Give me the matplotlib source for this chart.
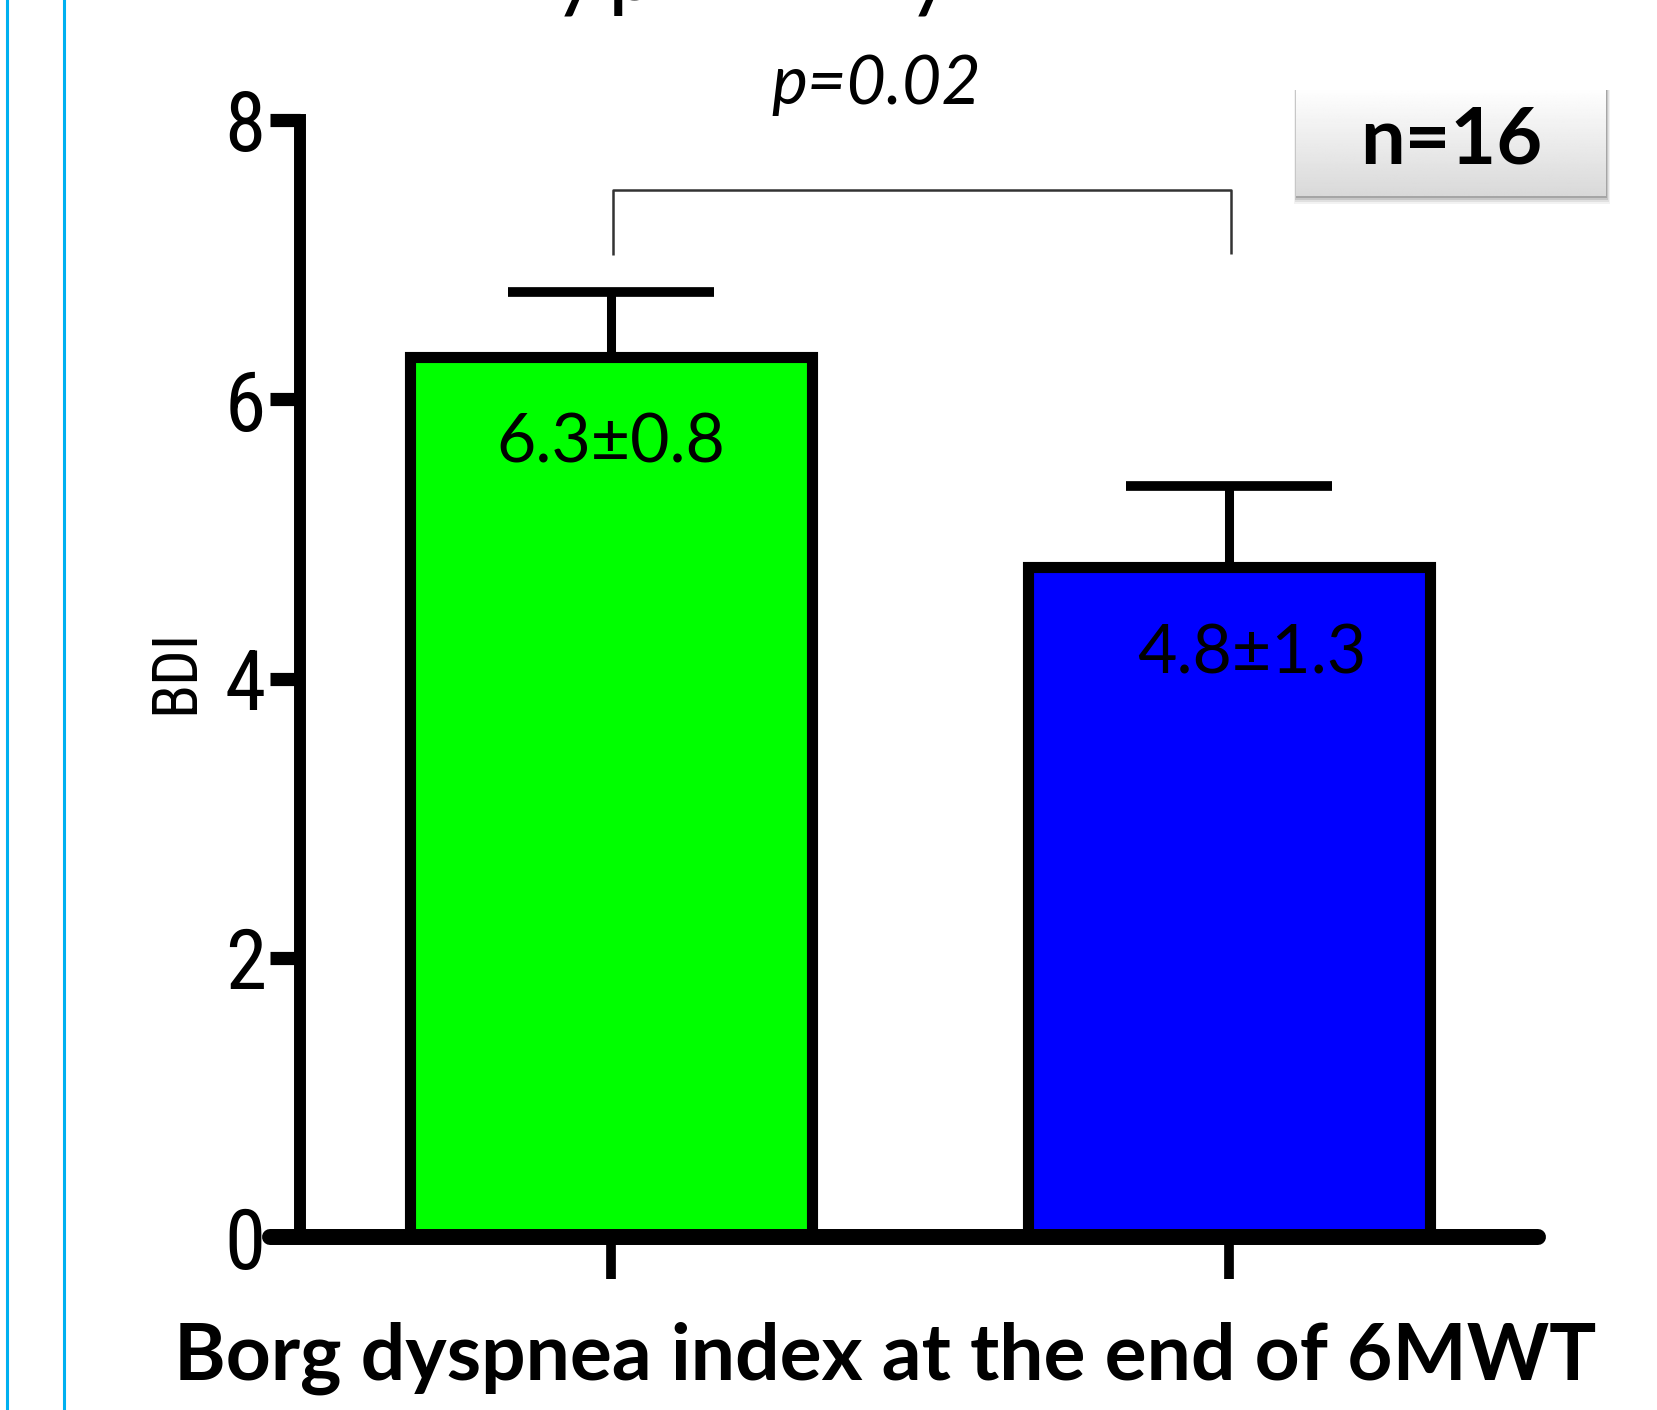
import numpy as np
import matplotlib
matplotlib.use("Agg")
import matplotlib.pyplot as plt
from matplotlib.lines import Line2D
from matplotlib.patches import Rectangle
from matplotlib import font_manager as fm

# ---- data ----
categories = ["Before", "After"]
means = [6.3, 4.8]
errors = [0.47, 0.58]
value_labels = ["6.3\u00b10.8", "4.8\u00b11.3"]
bar_colors = ["#00FF00", "#0000FF"]
y_ticks = [0, 2, 4, 6, 8]
p_text = "p=0.02"
n_text = "n=16"
x_label = "Borg dyspnea index at the end of 6MWT"
y_label = "BDI"

# find a narrow font if one is installed
narrow = None
names = sorted({f.name for f in fm.fontManager.ttflist})
for key in ("Liberation Sans Narrow", "Arial Narrow", "Roboto Condensed", "Open Sans Condensed",
            "DejaVu Sans Condensed"):
    if key in names:
        narrow = key
        break
if narrow is None:
    for f in fm.fontManager.ttflist:
        if ("Narrow" in f.name or "Condensed" in f.name or f.stretch in ("condensed", "semi-condensed")):
            narrow = f.name
            break
narrow_family = [narrow, "DejaVu Sans"] if narrow else ["DejaVu Sans"]
narrow_stretch = "condensed"

W, H = 1657, 1410
fig = plt.figure(figsize=(W / 100, H / 100), dpi=100)
fig.patch.set_facecolor("white")

def fx(px):
    return px / W

def fy(py):
    return 1 - py / H

# slide frame lines (light blue)
for xpx in (7, 64):
    fig.add_artist(Line2D([fx(xpx), fx(xpx)], [0, 1], color="#00B0F0", lw=2.2,
                          transform=fig.transFigure))

# cut-off title fragments (descenders visible at top edge)
for ch, xpx in (("y", 552), ("p", 608), ("y", 906)):
    fig.text(fx(xpx), 1.0, ch, fontsize=64, family="Lato", va="baseline", ha="left")

ax = fig.add_axes([fx(270), fy(1237), fx(1538) - fx(270), fy(120) - fy(1237)])
ax.set_facecolor("none")
x = np.arange(len(categories))
ax.set_xlim(-0.5518, 1.5)
ax.set_ylim(0, 8)

ax.bar(x, means, width=0.649, color=bar_colors, edgecolor="black", linewidth=8, zorder=2)
eb = ax.errorbar(x, means, yerr=[[0] * len(errors), errors], fmt="none", ecolor="black",
                 elinewidth=6.5, capsize=74, capthick=7, zorder=3)
eb[1][0].set_visible(False)

for xi, yi, lab in zip([0.0, 1.037], [5.68, 4.17], value_labels):
    ax.text(xi, yi, lab, ha="center", va="center", fontsize=49, family="Lato", zorder=4)

# significance bracket
ax.plot([0.003, 0.003, 1.003, 1.003], [7.03, 7.5, 7.5, 7.04], color="#333333", lw=1.8,
        clip_on=False, solid_capstyle="butt")
ax.text(0.43, 8.25, p_text, ha="center", va="center", fontsize=49, family="Lato",
        style="italic", clip_on=False)

# spines
for s in ("top", "right"):
    ax.spines[s].set_visible(False)
ax.spines["left"].set_position(("axes", 30 / 1268))
ax.spines["left"].set_linewidth(8.6)
ax.spines["bottom"].set_linewidth(11.5)
ax.spines["bottom"].set_capstyle("round")
ax.spines["left"].set_capstyle("projecting")
ax.spines["left"].set_zorder(5)
ax.spines["bottom"].set_zorder(5)

ax.set_yticks(y_ticks)
ax.set_yticklabels([str(t) for t in y_ticks], family=narrow_family, stretch=narrow_stretch,
                   fontsize=60)
ax.tick_params(axis="y", direction="out", length=21.6, width=9.5, pad=3)
ax.set_xticks(x)
ax.set_xticklabels([])
ax.tick_params(axis="x", direction="out", length=30, width=7)

fig.text(fx(176), fy(671), y_label, rotation=90, ha="center", va="center", fontsize=45,
         family=narrow_family, stretch=narrow_stretch)
fig.text(fx(885), fy(1380), x_label, ha="center", va="baseline", fontsize=56.5,
         family="Lato", weight="bold")

# n=16 box with gradient and shadow
bx0, bx1, by0, by1 = 1296, 1606, 87, 196
for k, a in enumerate([0.05, 0.07, 0.11, 0.17]):
    off = 8 - 2 * k
    fig.add_artist(Rectangle((fx(bx0 - off / 4), fy(by1 + off)), fx(bx1 + off / 2) - fx(bx0 - off / 4),
                             fy(by0 + 3) - fy(by1 + off), transform=fig.transFigure,
                             facecolor="#000000", alpha=a, edgecolor="none", zorder=1))
bax = fig.add_axes([fx(bx0), fy(by1), fx(bx1) - fx(bx0), fy(by0) - fy(by1)], zorder=2)
grad = np.linspace(1.0, 0.85, 100).reshape(-1, 1)
bax.imshow(np.repeat(grad, 2, axis=1), cmap="gray", vmin=0, vmax=1, aspect="auto",
           extent=[0, 1, 0, 1], origin="upper")
bax.set_axis_off()
bax.text(0.5, 0.5, n_text, ha="center", va="center", fontsize=57, family="Lato",
         weight="bold", transform=bax.transAxes)

fig.savefig("out.png", dpi=100, facecolor="white")
